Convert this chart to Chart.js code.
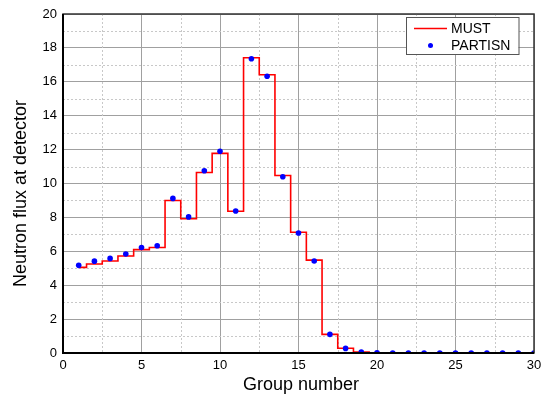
<!DOCTYPE html>
<html>
<head>
<meta charset="utf-8">
<script src="https://cdn.jsdelivr.net/npm/chart.js@4/dist/chart.umd.min.js"></script>
<style>
html,body{margin:0;padding:0;background:#fff;}
#wrap{width:555px;height:396px;position:relative;}
</style>
</head>
<body>
<div id="wrap"><canvas id="c" width="555" height="396"></canvas></div>
<script>
const groups = [1,2,3,4,5,6,7,8,9,10,11,12,13,14,15,16,17,18,19,20,21,22,23,24,25,26,27,28,29,30];
const mustValues = [5.05,5.25,5.43,5.72,6.1,6.22,9.0,7.92,10.65,11.78,8.36,17.42,16.42,10.47,7.12,5.48,1.1,0.28,0.05,0.01,0,0,0,0,0,0,0,0,0,0];
const partisnValues = [5.17,5.42,5.58,5.84,6.22,6.33,9.12,8.03,10.75,11.9,8.38,17.36,16.33,10.4,7.08,5.43,1.1,0.27,0.05,0.01,0,0,0,0,0,0,0,0,0,0];
const xTicks = [0,5,10,15,20,25,30];
const yTicks = [0,2,4,6,8,10,12,14,16,18,20];
const xTitle = 'Group number';
const yTitle = 'Neutron flux at detector';

const FONT = "'Liberation Sans', Arial, sans-serif";

const minorGrid = {
  id: 'minorGrid',
  beforeDatasetsDraw(chart) {
    const {ctx, chartArea: a, scales: {x, y}} = chart;
    ctx.save();
    ctx.strokeStyle = '#c8c8c8';
    ctx.lineWidth = 1;
    ctx.setLineDash([2, 2]);
    for (let v = 2.5; v < 30; v += 5) {
      const px = Math.round(x.getPixelForValue(v)) + 0.5;
      ctx.beginPath(); ctx.moveTo(px, a.top); ctx.lineTo(px, a.bottom); ctx.stroke();
    }
    for (let v = 1; v < 20; v += 2) {
      const py = Math.round(y.getPixelForValue(v)) + 0.5;
      ctx.beginPath(); ctx.moveTo(a.left, py); ctx.lineTo(a.right, py); ctx.stroke();
    }
    ctx.restore();
  }
};

const frame = {
  id: 'frame',
  afterDatasetsDraw(chart) {
    const {ctx, chartArea: a} = chart;
    ctx.save();
    ctx.strokeStyle = '#333';
    ctx.lineWidth = 1.5;
    ctx.strokeRect(a.left, a.top, a.right - a.left, a.bottom - a.top);
    ctx.strokeStyle = '#000';
    ctx.lineWidth = 2;
    ctx.beginPath();
    ctx.moveTo(a.left, a.top); ctx.lineTo(a.left, a.bottom); ctx.lineTo(a.right, a.bottom);
    ctx.stroke();
    ctx.restore();
  }
};

const axisTitles = {
  id: 'axisTitles',
  afterDraw(chart) {
    const {ctx, chartArea: a} = chart;
    ctx.save();
    ctx.fillStyle = '#000';
    ctx.font = '18px ' + FONT;
    ctx.textAlign = 'center';
    ctx.textBaseline = 'middle';
    ctx.fillText(xTitle, (a.left + a.right) / 2 + 2.5, 385);
    ctx.translate(21, (a.top + a.bottom) / 2 + 10);
    ctx.rotate(-Math.PI / 2);
    ctx.fillText(yTitle, 0, 0);
    ctx.restore();
  }
};

const boxLegend = {
  id: 'boxLegend',
  afterDraw(chart) {
    const {ctx, chartArea: a} = chart;
    const left = a.right - 128, top = a.top + 3, w = 112.5, h = 37;
    ctx.save();
    ctx.fillStyle = '#fff';
    ctx.fillRect(left, top, w, h);
    ctx.strokeStyle = '#555';
    ctx.lineWidth = 1;
    ctx.strokeRect(left + 0.5, top + 0.5, w, h);
    ctx.strokeStyle = '#ff0000';
    ctx.lineWidth = 1.5;
    ctx.beginPath(); ctx.moveTo(left + 8, top + 11.5); ctx.lineTo(left + 41, top + 11.5); ctx.stroke();
    ctx.fillStyle = '#0000ff';
    ctx.beginPath(); ctx.arc(left + 24.5, top + 28.5, 2.5, 0, Math.PI * 2); ctx.fill();
    ctx.fillStyle = '#000';
    ctx.font = '14px ' + FONT;
    ctx.textBaseline = 'middle';
    ctx.fillText('MUST', left + 45, top + 12);
    ctx.fillText('PARTISN', left + 45, top + 29);
    ctx.restore();
  }
};

new Chart(document.getElementById('c'), {
  type: 'line',
  data: {
    datasets: [
      {
        label: 'MUST',
        data: groups.map((g, i) => ({x: g, y: mustValues[i]})),
        borderColor: '#ff0000',
        borderWidth: 1.6,
        pointRadius: 0,
        stepped: 'middle',
        fill: false,
        order: 2
      },
      {
        label: 'PARTISN',
        data: groups.map((g, i) => ({x: g, y: partisnValues[i]})),
        showLine: false,
        pointRadius: 2.8,
        pointBackgroundColor: '#0000ff',
        pointBorderColor: '#0000ff',
        pointBorderWidth: 0,
        order: 1
      }
    ]
  },
  options: {
    responsive: false,
    animation: false,
    devicePixelRatio: 1,
    layout: {padding: {top: 14, right: 21, left: 0, bottom: 0}},
    plugins: {legend: {display: false}, tooltip: {enabled: false}},
    scales: {
      x: {
        type: 'linear', min: 0, max: 30,
        afterBuildTicks(s) { s.ticks = xTicks.map(v => ({value: v})); },
        afterFit(s) { s.height = 43; },
        ticks: {color: '#000', font: {family: FONT, size: 13}, padding: 5, maxRotation: 0},
        grid: {color: '#a0a0a0', lineWidth: 1, drawTicks: false},
        border: {display: false},
        title: {display: false}
      },
      y: {
        type: 'linear', min: 0, max: 20,
        afterBuildTicks(s) { s.ticks = yTicks.map(v => ({value: v})); },
        afterFit(s) { s.width = 63; },
        ticks: {color: '#000', font: {family: FONT, size: 13}, padding: 6},
        grid: {color: '#a0a0a0', lineWidth: 1, drawTicks: false},
        border: {display: false},
        title: {display: false}
      }
    }
  },
  plugins: [minorGrid, frame, axisTitles, boxLegend]
});
</script>
</body>
</html>
